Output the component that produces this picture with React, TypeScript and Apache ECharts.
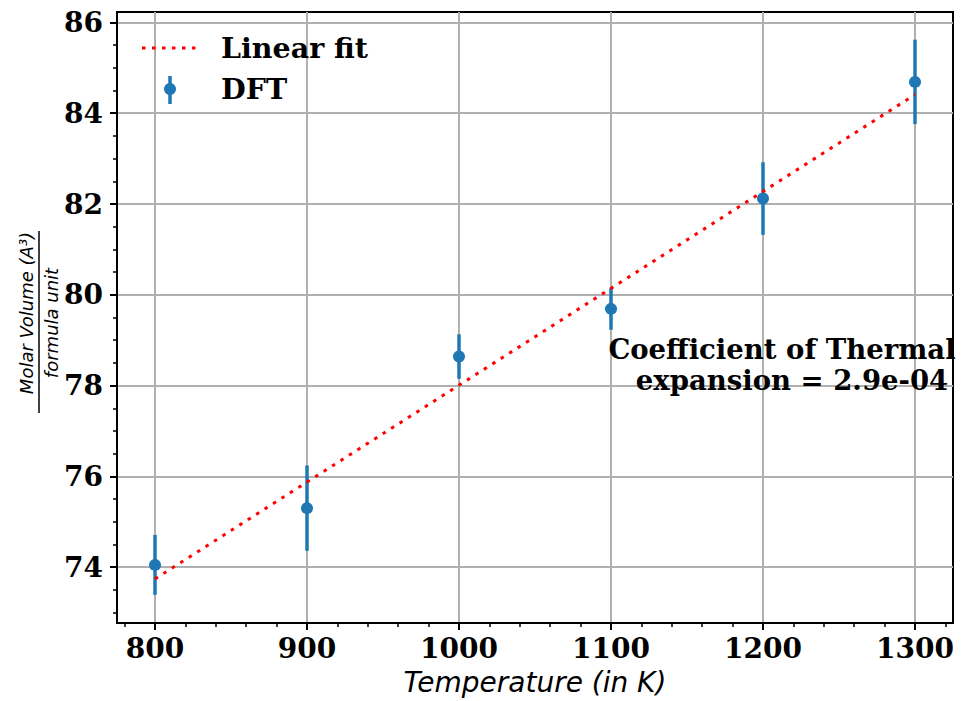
import React, { useEffect, useRef } from "react";
import * as echarts from "echarts";

const temperatures = [800, 900, 1000, 1100, 1200, 1300];
const molarVolumes = [74.05, 75.3, 78.64, 79.69, 82.12, 84.69];
const volumeErrors = [0.66, 0.94, 0.49, 0.46, 0.8, 0.93];
const fitTemperatures = [800, 1300];
const fitVolumes = [73.74, 84.41];
const xMajorTicks = [800, 900, 1000, 1100, 1200, 1300];
const xMinorTicks = [780, 820, 840, 860, 880, 920, 940, 960, 980, 1020, 1040, 1060, 1080, 1120, 1140, 1160, 1180, 1220, 1240, 1260, 1280, 1320];
const yMajorTicks = [74, 76, 78, 80, 82, 84, 86];
const yMinorTicks = [73, 73.5, 74.5, 75, 75.5, 76.5, 77, 77.5, 78.5, 79, 79.5, 80.5, 81, 81.5, 82.5, 83, 83.5, 84.5, 85, 85.5];
const xLabel = "Temperature (in K)";
const yLabelTop = "Molar Volume (A³)";
const yLabelBottom = "formula unit";
const legendLabels = ["Linear fit", "DFT"];
const annotationLines = ["Coefficient of Thermal", "expansion = 2.9e-04"];

const SERIF = '"DejaVu Serif", serif';
const SANS = '"DejaVu Sans", sans-serif';
const BLUE = "#1f77b4";
const RED = "#ff0000";

export default function App() {
  const ref = useRef<HTMLDivElement>(null);
  useEffect(() => {
    if (!ref.current) return;
    const chart = echarts.init(ref.current, undefined, { renderer: "svg" });
    const errData = temperatures.map((t, i) => [t, molarVolumes[i] - volumeErrors[i], molarVolumes[i] + volumeErrors[i]]);
    const ptData = temperatures.map((t, i) => [t, molarVolumes[i]]);
    const fitData = fitTemperatures.map((t, i) => [t, fitVolumes[i]]);
    const tickLabelStyle = { fontSize: 28, fontWeight: "bold", fontFamily: SERIF, color: "#000", formatter: (v: number) => String(v) };
    const option: any = {
      animation: false,
      backgroundColor: "#ffffff",
      grid: { left: 117, right: 10, top: 12, bottom: 73, show: true, borderColor: "#000", borderWidth: 2, backgroundColor: "transparent" },
      xAxis: [
        {
          type: "value", min: 775, max: 1325, position: "bottom",
          axisLine: { show: true, lineStyle: { color: "#000", width: 2 } },
          axisTick: { show: true, customValues: xMajorTicks, length: 7, lineStyle: { color: "#000", width: 2 } },
          axisLabel: { show: true, customValues: xMajorTicks, margin: 11, ...tickLabelStyle },
          splitLine: { show: true, lineStyle: { color: "#b0b0b0", width: 2 } },
          name: xLabel, nameLocation: "middle", nameGap: 45,
          nameTextStyle: { fontSize: 28, fontStyle: "italic", fontFamily: SANS, color: "#000" },
        },
        {
          type: "value", min: 775, max: 1325, position: "bottom",
          axisLine: { show: false },
          axisTick: { show: true, customValues: xMinorTicks, length: 4, lineStyle: { color: "#000", width: 1.5 } },
          axisLabel: { show: false },
          splitLine: { show: false },
        },
      ],
      yAxis: [
        {
          type: "value", min: 72.77, max: 86.23, position: "left",
          axisLine: { show: true, lineStyle: { color: "#000", width: 2 } },
          axisTick: { show: true, customValues: yMajorTicks, length: 7, lineStyle: { color: "#000", width: 2 } },
          axisLabel: { show: true, customValues: yMajorTicks, margin: 14, ...tickLabelStyle },
          splitLine: { show: true, lineStyle: { color: "#b0b0b0", width: 2 } },
        },
        {
          type: "value", min: 72.77, max: 86.23, position: "left",
          axisLine: { show: false },
          axisTick: { show: true, customValues: yMinorTicks, length: 4, lineStyle: { color: "#000", width: 1.5 } },
          axisLabel: { show: false },
          splitLine: { show: false },
        },
      ],
      series: [
        {
          type: "custom", name: "DFT error", xAxisIndex: 0, yAxisIndex: 0, z: 2,
          data: errData,
          encode: { x: 0, y: [1, 2] },
          renderItem: (params: any, api: any) => {
            const x = api.value(0);
            const lo = api.coord([x, api.value(1)]);
            const hi = api.coord([x, api.value(2)]);
            return { type: "line", shape: { x1: lo[0], y1: lo[1], x2: hi[0], y2: hi[1] }, style: { stroke: BLUE, lineWidth: 3.5 } };
          },
        },
        {
          type: "scatter", name: "DFT", xAxisIndex: 0, yAxisIndex: 0, z: 3,
          data: ptData, symbol: "circle", symbolSize: 12, itemStyle: { color: BLUE, opacity: 1 },
        },
        {
          type: "line", name: "Linear fit", xAxisIndex: 0, yAxisIndex: 0, z: 4,
          data: fitData, symbol: "none",
          lineStyle: { color: RED, width: 3, type: [3.5, 6.5], cap: "butt" },
        },
      ],
      graphic: [
        { type: "line", shape: { x1: 142, y1: 48, x2: 198, y2: 48 }, style: { stroke: RED, lineWidth: 3, lineDash: [3.5, 6.5] }, z: 10 },
        { type: "line", shape: { x1: 170, y1: 76, x2: 170, y2: 104 }, style: { stroke: BLUE, lineWidth: 3.5 }, z: 10 },
        { type: "circle", shape: { cx: 170, cy: 89, r: 6 }, style: { fill: BLUE }, z: 10 },
        { type: "text", x: 221, y: 48, z: 10, style: { text: legendLabels[0], fontSize: 28.5, fontWeight: "bold", fontFamily: SERIF, fill: "#000", align: "left", verticalAlign: "middle" } },
        { type: "text", x: 221, y: 89, z: 10, style: { text: legendLabels[1], fontSize: 28.5, fontWeight: "bold", fontFamily: SERIF, fill: "#000", align: "left", verticalAlign: "middle" } },
        { type: "text", x: 782, y: 349, z: 10, style: { text: annotationLines[0], fontSize: 27.5, fontWeight: "bold", fontFamily: SERIF, fill: "#000", align: "center", verticalAlign: "middle" } },
        { type: "text", x: 792, y: 380, z: 10, style: { text: annotationLines[1], fontSize: 27.5, fontWeight: "bold", fontFamily: SERIF, fill: "#000", align: "center", verticalAlign: "middle" } },
        {
          type: "group", x: 39, y: 322, rotation: Math.PI / 2, z: 10,
          children: [
            { type: "text", x: 9, y: -4, style: { text: yLabelTop, fontSize: 18, fontStyle: "italic", fontFamily: SANS, fill: "#000", align: "center", verticalAlign: "bottom" } },
            { type: "line", shape: { x1: -91, y1: 0, x2: 91, y2: 0 }, style: { stroke: "#000", lineWidth: 1.5 } },
            { type: "text", x: -1, y: 3, style: { text: yLabelBottom, fontSize: 18, fontStyle: "italic", fontFamily: SANS, fill: "#000", align: "center", verticalAlign: "top" } },
          ],
        },
      ],
    };
    chart.setOption(option);
    return () => chart.dispose();
  }, []);
  return <div ref={ref} style={{ position: "fixed", left: 0, top: 0, width: 963, height: 701 }} />;
}
